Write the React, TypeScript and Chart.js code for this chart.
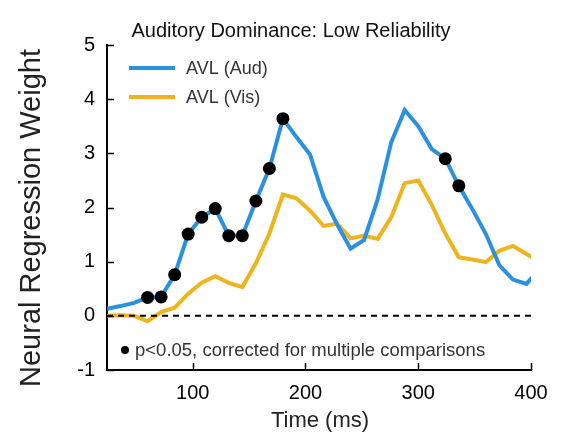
import React, { useEffect, useRef } from "react";
import { Chart, registerables } from "chart.js";

Chart.register(...registerables);

// Sample times (ms) for the regression weights
const times = [
  24, 36, 48, 60, 72, 84, 96, 108, 120, 132, 144, 156, 168, 180, 192, 204, 216,
  228, 240, 252, 264, 276, 288, 300, 312, 324, 336, 348, 360, 372, 384, 396, 408,
];

// AVL auditory weights
const audWeights = [
  0.13, 0.18, 0.24, 0.34, 0.35, 0.76, 1.51, 1.82, 1.98, 1.48, 1.48, 2.12, 2.72,
  3.64, 3.3, 2.98, 2.2, 1.69, 1.24, 1.4, 2.15, 3.2, 3.8, 3.5, 3.08, 2.9, 2.4,
  1.97, 1.51, 0.93, 0.67, 0.59, 0.88,
];

// AVL visual weights
const visWeights = [
  0.0, 0.01, 0.0, -0.1, 0.07, 0.15, 0.41, 0.61, 0.73, 0.61, 0.53, 0.97, 1.52,
  2.24, 2.17, 1.94, 1.66, 1.7, 1.43, 1.48, 1.42, 1.82, 2.45, 2.5, 2.05, 1.52,
  1.08, 1.04, 0.99, 1.2, 1.29, 1.14, 1.0,
];

// Times where the auditory weight is significant
const sigTimes = [60, 72, 84, 96, 108, 120, 132, 144, 156, 168, 180, 324, 336];

const xTicks = [100, 200, 300, 400];
const xRange = [24, 400];
const yRange = [-1, 5];

const seriesLabels = ["AVL (Aud)", "AVL (Vis)"];
const seriesColors = ["#2b91de", "#edb41e"];
const titleText = "Auditory Dominance: Low Reliability";
const yTitleText = "Neural Regression Weight";
const xTitleText = "Time (ms)";
const noteText = "p<0.05, corrected for multiple comparisons";

const FONT = "'Liberation Sans', Arial, Helvetica, sans-serif";

const textPlugin = {
  id: "figureText",
  afterDraw(chart: any) {
    const { ctx, chartArea } = chart;
    ctx.save();

    // title
    ctx.fillStyle = "#111";
    ctx.font = `20px ${FONT}`;
    ctx.textAlign = "center";
    ctx.textBaseline = "alphabetic";
    ctx.fillText(titleText, 291, 37);

    // axis titles
    ctx.fillStyle = "#222";
    ctx.font = `22px ${FONT}`;
    ctx.fillText(xTitleText, (chartArea.left + chartArea.right) / 2 + 1, 427);

    ctx.save();
    ctx.translate(40, 218);
    ctx.rotate(-Math.PI / 2);
    ctx.font = `29px ${FONT}`;
    ctx.fillText(yTitleText, 0, 0);
    ctx.restore();

    // legend
    ctx.textAlign = "left";
    ctx.textBaseline = "middle";
    ctx.font = `18px ${FONT}`;
    const legendRows = [68, 97];
    seriesLabels.forEach((label, i) => {
      const y = legendRows[i];
      ctx.strokeStyle = seriesColors[i];
      ctx.lineWidth = 4;
      ctx.beginPath();
      ctx.moveTo(129, y);
      ctx.lineTo(175, y);
      ctx.stroke();
      ctx.fillStyle = "#333";
      ctx.fillText(label, 186, y + 1);
    });

    // significance note
    ctx.fillStyle = "#000";
    ctx.beginPath();
    ctx.arc(125, 350, 4, 0, Math.PI * 2);
    ctx.fill();
    ctx.fillStyle = "#333";
    ctx.font = `18.5px ${FONT}`;
    ctx.fillText(noteText, 135, 351);

    // inward ticks
    ctx.strokeStyle = "#000";
    ctx.lineWidth = 1.5;
    const xs = chart.scales.x;
    const ys = chart.scales.y;
    xTicks.forEach((t) => {
      const px = Math.round(xs.getPixelForValue(t)) + 0.5;
      ctx.beginPath();
      ctx.moveTo(px, chartArea.bottom);
      ctx.lineTo(px, chartArea.bottom - 7);
      ctx.stroke();
    });
    for (let v = yRange[0]; v <= yRange[1]; v++) {
      const py = Math.round(ys.getPixelForValue(v)) + 0.5;
      ctx.beginPath();
      ctx.moveTo(chartArea.left, py);
      ctx.lineTo(chartArea.left + 7, py);
      ctx.stroke();
    }
    ctx.restore();
  },
};

export default function App() {
  const canvasRef = useRef<HTMLCanvasElement | null>(null);

  useEffect(() => {
    document.body.style.margin = "0";
    const canvas = canvasRef.current;
    if (!canvas) return;

    const audPoints = times.map((t, i) => ({ x: t, y: audWeights[i] }));
    const visPoints = times.map((t, i) => ({ x: t, y: visWeights[i] }));
    const sigPoints = sigTimes.map((t) => ({
      x: t,
      y: audWeights[times.indexOf(t)],
    }));

    const chart = new Chart(canvas, {
      type: "line",
      data: {
        datasets: [
          {
            label: "significant",
            type: "scatter",
            data: sigPoints,
            pointRadius: 6.5,
            pointBackgroundColor: "#000",
            pointBorderWidth: 0,
            showLine: false,
            order: 0,
          },
          {
            label: "zero",
            data: [
              { x: xRange[0], y: 0 },
              { x: xRange[1], y: 0 },
            ],
            borderColor: "#000",
            borderWidth: 2,
            borderDash: [6, 5],
            pointRadius: 0,
            order: 1,
          },
          {
            label: seriesLabels[0],
            data: audPoints,
            borderColor: seriesColors[0],
            borderWidth: 4,
            pointRadius: 0,
            tension: 0,
            borderJoinStyle: "miter",
            order: 2,
          },
          {
            label: seriesLabels[1],
            data: visPoints,
            borderColor: seriesColors[1],
            borderWidth: 4,
            pointRadius: 0,
            tension: 0,
            borderJoinStyle: "miter",
            order: 3,
          },
        ],
      },
      options: {
        responsive: false,
        animation: false,
        events: [],
        layout: { padding: { top: 45, right: 40, left: 0, bottom: 0 } },
        plugins: {
          legend: { display: false },
          title: { display: false },
          tooltip: { enabled: false },
        },
        scales: {
          x: {
            type: "linear",
            min: xRange[0],
            max: xRange[1],
            afterBuildTicks: (scale: any) => {
              scale.ticks = xTicks.map((v) => ({ value: v }));
            },
            afterFit: (scale: any) => {
              scale.height = 65;
            },
            grid: { display: false, drawTicks: false },
            border: { display: true, color: "#000", width: 2 },
            ticks: {
              color: "#000",
              font: { family: FONT, size: 20 },
              padding: 11,
              maxRotation: 0,
              autoSkip: false,
            },
          },
          y: {
            type: "linear",
            min: yRange[0],
            max: yRange[1],
            afterFit: (scale: any) => {
              scale.width = 107;
            },
            grid: { display: false, drawTicks: false },
            border: { display: true, color: "#000", width: 2 },
            ticks: {
              stepSize: 1,
              color: "#000",
              font: { family: FONT, size: 20 },
              padding: 12,
            },
          },
        },
      },
      plugins: [textPlugin],
    });

    return () => chart.destroy();
  }, []);

  return (
    <div style={{ width: 571, height: 435, background: "#fff" }}>
      <canvas ref={canvasRef} width={571} height={435} />
    </div>
  );
}
